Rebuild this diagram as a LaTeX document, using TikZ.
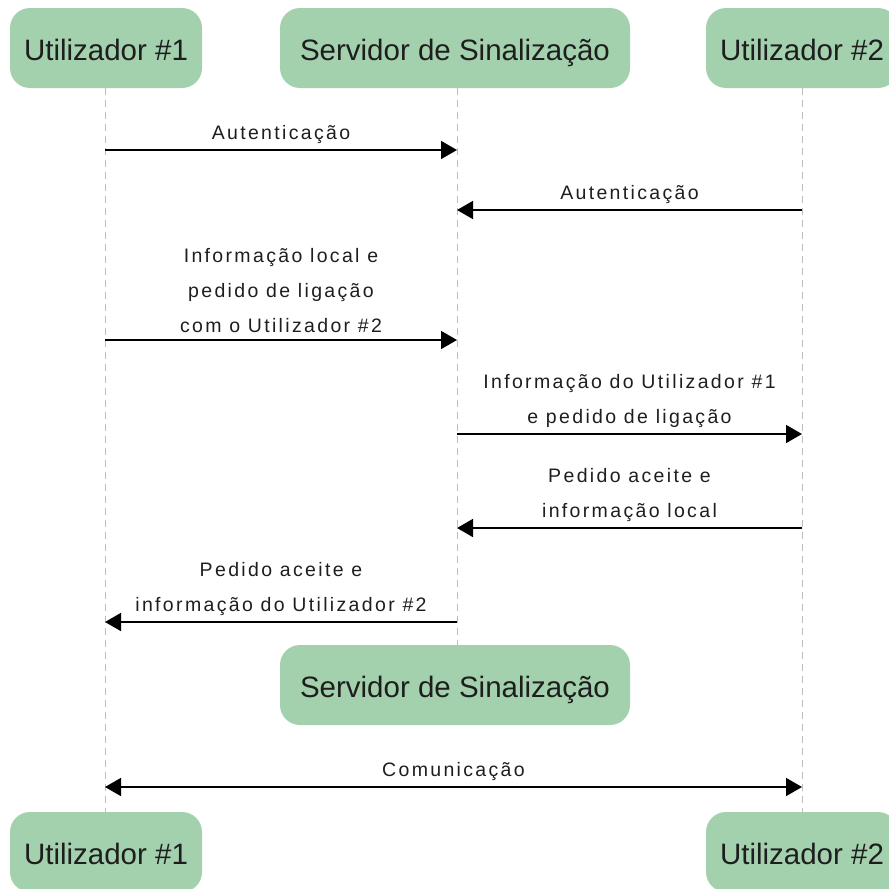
\documentclass[tikz,border=0pt]{standalone}
\usepackage{fontspec}
\setmainfont{Liberation Sans}
\newfontfamily\labelfont[LetterSpace=12]{Liberation Sans}
\newfontfamily\actorfont{Liberation Sans}
\usetikzlibrary{arrows.meta}
\definecolor{actorfill}{HTML}{A3D1AD}
\definecolor{lifegray}{HTML}{BDBDBD}
\definecolor{inktext}{HTML}{1E1E1E}

\begin{document}
\begin{tikzpicture}[x=1pt,y=-1pt,
  actor/.style={rectangle, rounded corners=20pt, fill=actorfill, draw=none,
    minimum height=80pt, inner sep=0pt, text=inktext,
    text height=25pt, text depth=0pt,
    font=\actorfont\fontsize{29.5}{32}\selectfont},
  narrow/.style={actor, minimum width=192pt},
  wide/.style={actor, minimum width=350pt},
  lifeline/.style={draw=lifegray, line width=1pt, dash pattern=on 7pt off 5pt},
  tip/.tip={Triangle[length=16pt,width=18pt]},
  msg/.style={line width=1.7pt, -tip},
  msgboth/.style={line width=1.7pt, tip-tip},
  lbl/.style={anchor=south, inner sep=0pt, align=center, text=inktext,
    font=\labelfont\fontsize{19.5}{35}\selectfont, yshift=6pt}
]
\useasboundingbox (0,0) rectangle (889,889);
\clip (0,0) rectangle (889,889);

% participants
\node[narrow] (u1top) at (106,48) {Utilizador \#1};
\node[wide]   (srvtop) at (455,48) {Servidor de Sinalização};
\node[narrow] (u2top) at (802,48) {Utilizador \#2};
\node[wide]   (srvmid) at (455,685) {Servidor de Sinalização};
\node[narrow] (u1bot) at (106,852) {Utilizador \#1};
\node[narrow] (u2bot) at (802,852) {Utilizador \#2};

% lifelines
\draw[lifeline] ([xshift=-1pt]u1top.south) -- ([xshift=-1pt]u1bot.north);
\draw[lifeline] (u2top.south) -- (u2bot.north);
\draw[lifeline] ([xshift=2pt]srvtop.south) -- ([xshift=2pt]srvmid.north);

% message end points on the lifelines
\coordinate (a1) at (105,150); \coordinate (b1) at (457,150);
\coordinate (c2) at (802,210); \coordinate (b2) at (457,210);
\coordinate (a3) at (105,340); \coordinate (b3) at (457,340);
\coordinate (b4) at (457,434); \coordinate (c4) at (802,434);
\coordinate (c5) at (802,528); \coordinate (b5) at (457,528);
\coordinate (b6) at (457,622); \coordinate (a6) at (105,622);
\coordinate (a7) at (105,787); \coordinate (c7) at (802,787);

% messages
\draw[msg] (a1) -- (b1) node[lbl, midway] (t1) {Autenticação};
\draw[msg] (c2) -- (b2) node[lbl, midway] (t2) {Autenticação};
\draw[msg] (a3) -- (b3) node[lbl, midway] (t3)
  {Informação local e\\pedido de ligação\\com o Utilizador \#2};
\draw[msg] (b4) -- (c4) node[lbl, midway] (t4)
  {Informação do Utilizador \#1\\e pedido de ligação};
\draw[msg] (c5) -- (b5) node[lbl, midway] (t5)
  {Pedido aceite e\\informação local};
\draw[msg] (b6) -- (a6) node[lbl, midway] (t6)
  {Pedido aceite e\\informação do Utilizador \#2};
\draw[msgboth] (a7) -- (c7) node[lbl, midway] (t7) {Comunicação};
\end{tikzpicture}
\end{document}
